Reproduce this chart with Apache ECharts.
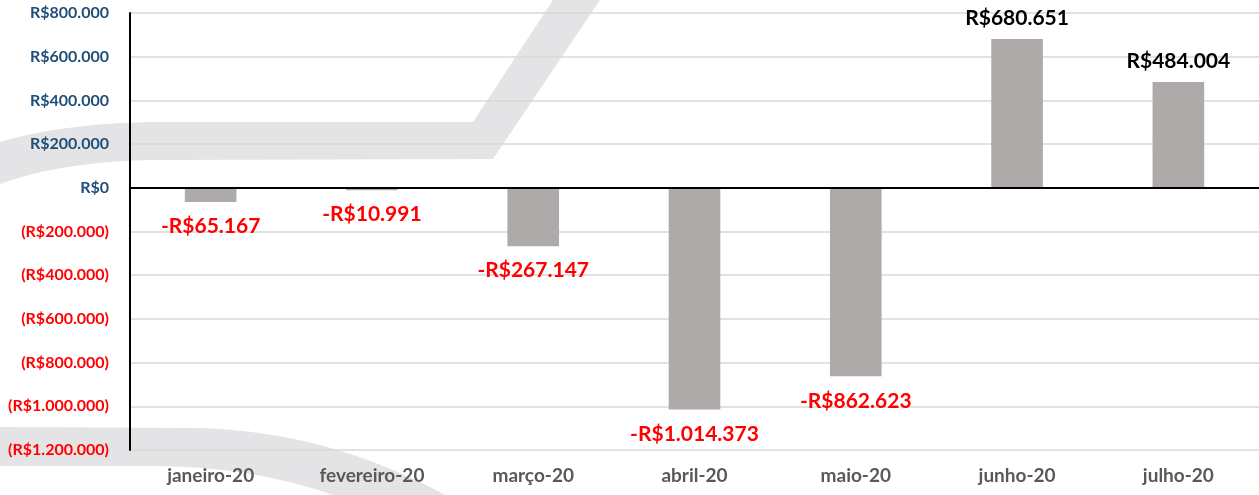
<!DOCTYPE html>
<html>
<head>
<meta charset="utf-8">
<script src="https://cdn.jsdelivr.net/npm/echarts@6/dist/echarts.min.js"></script>
<style>
  html, body { margin: 0; padding: 0; background: #fff; }
  #chart { width: 1259px; height: 495px; }
</style>
</head>
<body>
<div id="chart"></div>
<script>
const months = ['janeiro-20', 'fevereiro-20', 'março-20', 'abril-20', 'maio-20', 'junho-20', 'julho-20'];
const saldo = [-65167, -10991, -267147, -1014373, -862623, 680651, 484004];

// formato brasileiro: 1.014.373
function milhar(v) {
  return String(Math.abs(v)).replace(/\B(?=(\d{3})+(?!\d))/g, '.');
}

// pontos de uma curva quadratica (para a faixa decorativa do fundo)
function quad(p0, c, p1, n) {
  const pts = [];
  for (let i = 0; i <= n; i++) {
    const t = i / n, u = 1 - t;
    pts.push([u * u * p0[0] + 2 * u * t * c[0] + t * t * p1[0],
              u * u * p0[1] + 2 * u * t * c[1] + t * t * p1[1]]);
  }
  return pts;
}

const faixaCima = [].concat(
  quad([0, 142], [60, 124], [150, 122], 12),
  [[473, 122], [553, 0], [600, 0], [493, 159]],
  quad([150, 160], [60, 162], [0, 184], 12)
);
const faixaBaixo = [].concat(
  [[0, 427]],
  quad([200, 428], [330, 432], [445, 495], 16),
  quad([333, 495], [250, 466], [150, 466], 12),
  [[0, 466]]
);

const FONT = 'Lato';

const chart = echarts.init(document.getElementById('chart'));

const data = saldo.map(v => ({
  value: v,
  label: v < 0
    ? { position: 'bottom', distance: 14, color: '#ff0000', formatter: () => '-R$' + milhar(v) }
    : { position: 'top', distance: 10, color: '#000', formatter: () => 'R$' + milhar(v) }
}));

chart.setOption({
  animation: false,
  graphic: [
    { type: 'polygon', z: -10, silent: true, shape: { points: faixaCima }, style: { fill: '#e4e4e6' } },
    { type: 'polygon', z: -10, silent: true, shape: { points: faixaBaixo }, style: { fill: '#e4e4e6' } }
  ],
  grid: { left: 130, right: 0, top: 13, bottom: 45 },
  xAxis: {
    type: 'category',
    data: months,
    axisLine: { show: false },
    axisTick: { show: false },
    axisLabel: { color: '#595959', fontFamily: FONT, fontWeight: 'bold', fontSize: 19, margin: 16 }
  },
  yAxis: {
    type: 'value',
    min: -1200000,
    max: 800000,
    interval: 200000,
    axisLine: { show: true, lineStyle: { color: '#000', width: 2 } },
    axisTick: { show: false },
    splitLine: { lineStyle: { color: '#d9d9d9', width: 1.5 } },
    axisLabel: {
      fontFamily: FONT, fontWeight: 'bold', fontSize: 16, margin: 21,
      color: v => (v < 0 ? '#ff0000' : '#1f4e79'),
      formatter: v => (v < 0 ? '(R$' + milhar(v) + ')' : 'R$' + milhar(v))
    }
  },
  series: [{
    type: 'bar',
    data: data,
    barWidth: '32%',
    itemStyle: { color: '#aeaaaa' },
    label: { show: true, fontFamily: FONT, fontWeight: 'bold', fontSize: 21 },
    markLine: {
      silent: true,
      symbol: 'none',
      label: { show: false },
      lineStyle: { color: '#000', width: 2, type: 'solid' },
      data: [{ yAxis: 0 }]
    }
  }]
});
</script>
</body>
</html>
